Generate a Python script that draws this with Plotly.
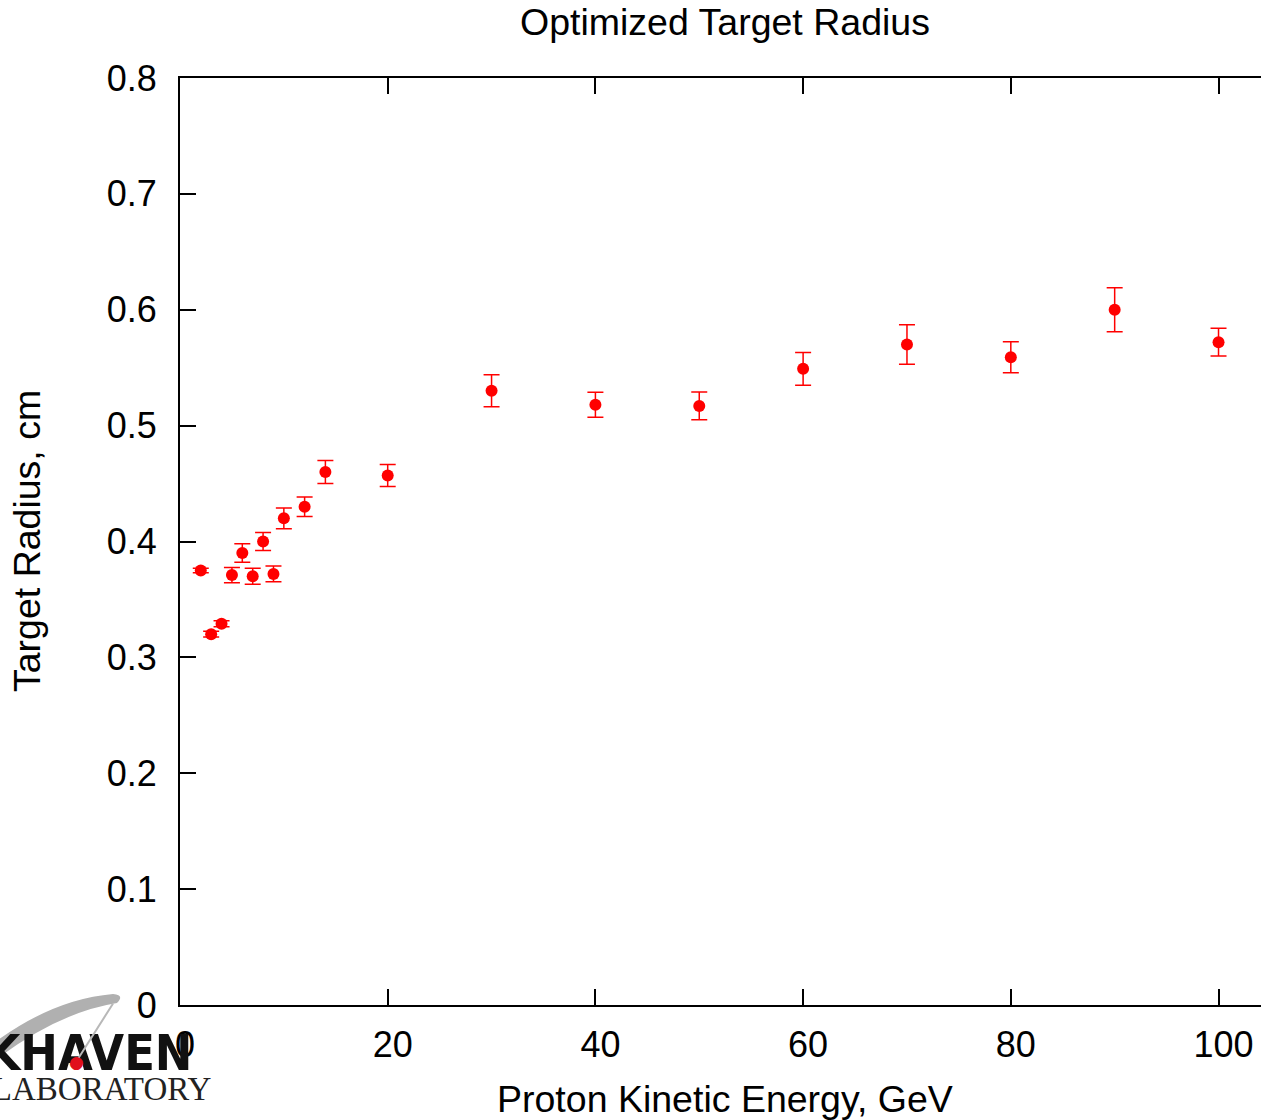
import plotly.graph_objects as go

# Optimized target radius vs proton kinetic energy
energy_gev = [2, 3, 4, 5, 6, 7, 8, 9, 10, 12, 14, 20, 30, 40, 50, 60, 70, 80, 90, 100]
radius_cm = [0.375, 0.320, 0.329, 0.371, 0.390, 0.370, 0.400, 0.372, 0.420, 0.430,
             0.460, 0.457, 0.530, 0.518, 0.517, 0.549, 0.570, 0.559, 0.600, 0.572]
radius_err = [0.002, 0.0025, 0.0025, 0.0066, 0.008, 0.007, 0.0078, 0.0068, 0.009, 0.0085,
              0.010, 0.0095, 0.0138, 0.0108, 0.012, 0.0142, 0.017, 0.0134, 0.019, 0.012]

x_ticks = [0, 20, 40, 60, 80, 100]
y_ticks = [0, 0.1, 0.2, 0.3, 0.4, 0.5, 0.6, 0.7, 0.8]
y_tick_labels = ["0", "0.1", "0.2", "0.3", "0.4", "0.5", "0.6", "0.7", "0.8"]

W, H = 1261, 1120
L, R, T, B = 180, 0, 78, 115
PW, PH = W - L - R, H - T - B


def px(x):
    return (x - L) / PW


def py(y):
    return (H - B - y) / PH


FONT = "Liberation Sans, Arial, sans-serif"

fig = go.Figure()
fig.add_trace(go.Scatter(
    x=energy_gev, y=radius_cm, mode="markers",
    marker=dict(color="#ff0000", size=12),
    error_y=dict(type="data", array=radius_err, visible=True,
                 color="#ff0000", thickness=1.5, width=8),
    showlegend=False,
))

axis_common = dict(
    showgrid=False, zeroline=False, showline=True, linecolor="black", linewidth=2,
    ticks="inside", ticklen=16, tickwidth=2, tickcolor="black",
    tickfont=dict(family=FONT, size=36, color="black"), automargin=False,
)

fig.update_layout(
    width=W, height=H,
    margin=dict(l=L, r=R, t=T, b=B, pad=0),
    paper_bgcolor="white", plot_bgcolor="white",
    xaxis=dict(range=[0, 104.09], tickvals=x_ticks, mirror="ticks",
               ticklabelstandoff=7, ticklabelshift=5, **axis_common),
    yaxis=dict(range=[0, 0.8], tickvals=y_ticks, ticktext=y_tick_labels,
               ticklabelstandoff=14, **axis_common),
    yaxis2=dict(range=[0, 0.8], tickvals=y_ticks, overlaying="y", side="right",
                anchor="x", showticklabels=False, showgrid=False, zeroline=False,
                showline=False, ticks="inside", ticklen=8, tickwidth=2,
                tickcolor="black"),
    font=dict(family=FONT, size=36, color="black"),
)

annotations = [
    dict(text="Optimized Target Radius", x=px(725), y=py(22)),
    dict(text="Proton Kinetic Energy, GeV", x=px(725), y=py(1099)),
    dict(text="Target Radius, cm", x=px(27), y=py(541), textangle=-90),
]
for a in annotations:
    fig.add_annotation(xref="paper", yref="paper", showarrow=False,
                       xanchor="center", yanchor="middle",
                       font=dict(family=FONT, size=37.5, color="black"), **a)

# Laboratory logo in the lower-left corner
fig.add_shape(type="path", xref="paper", yref="paper",
              path=(f"M {px(-2)},{py(1040)} Q {px(55)},{py(999)} {px(113)},{py(994)} "
                    f"Q {px(125)},{py(995)} {px(117)},{py(1003)} "
                    f"Q {px(60)},{py(1012)} {px(-2)},{py(1058)} Z"),
              fillcolor="#b0b0b0", line=dict(width=0), layer="above")
fig.add_annotation(xref="paper", yref="paper", x=px(195), y=py(1053),
                   xanchor="right", yanchor="middle", showarrow=False,
                   text="<b>BROOKHAVEN</b>",
                   font=dict(family="Liberation Sans Narrow, DejaVu Sans Condensed, sans-serif",
                             size=50, color="#111111"))
fig.add_annotation(xref="paper", yref="paper", x=px(76), y=py(1062),
                   ax=38, ay=-60, axref="pixel", ayref="pixel",
                   showarrow=True, arrowhead=0, arrowwidth=2, arrowcolor="#b8b8b8",
                   text="")
fig.add_annotation(xref="paper", yref="paper", x=px(76), y=py(1062),
                   xanchor="center", yanchor="middle", showarrow=False,
                   text="●", font=dict(family="DejaVu Sans", size=17, color="#e0101c"))
fig.add_annotation(xref="paper", yref="paper", x=px(213), y=py(1089),
                   xanchor="right", yanchor="middle", showarrow=False,
                   text="NATIONAL LABORATORY",
                   font=dict(family="Liberation Serif, serif", size=33, color="#222222"))

fig.write_html("out.html")
